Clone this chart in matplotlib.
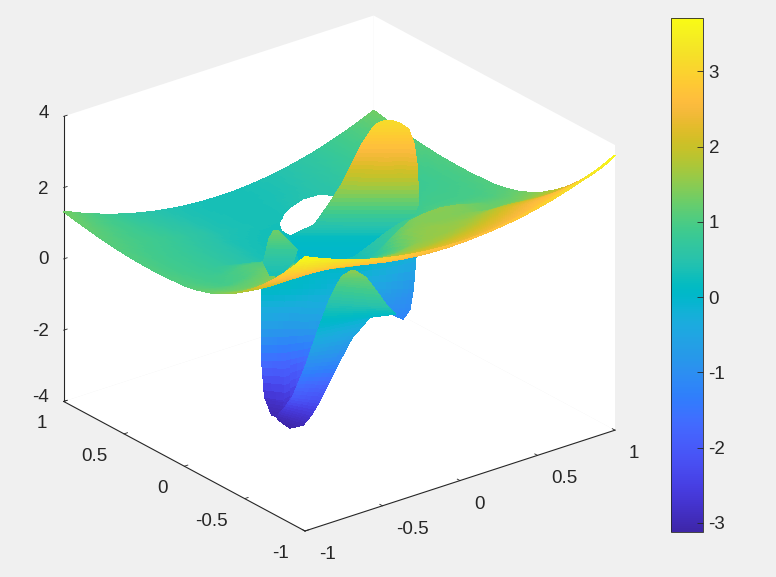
import numpy as np
import matplotlib
matplotlib.use("Agg")
import matplotlib.pyplot as plt
from matplotlib.colors import LinearSegmentedColormap, Normalize
from matplotlib.cm import ScalarMappable
from mpl_toolkits.mplot3d import proj3d
from mpl_toolkits.mplot3d.art3d import Poly3DCollection

plt.rcParams["font.family"] = ["Liberation Sans", "DejaVu Sans"]

nan = float("nan")
ink = "#262626"

x_grid = [-1, -.9, -.8, -.7, -.6, -.5, -.4, -.3, -.2, -.1, 0, .1, .2, .3, .4, .5, .6, .7, .8, .9, 1]
y_grid = [1, .9, .8, .7, .6, .5, .4, .3, .2, .1, 0, -.1, -.2, -.3, -.4, -.5, -.6, -.7, -.8, -.9, -1]

# main sheet, one row per y_grid value
bowl_z = [
    [1.33, 1.14, .97, .82, .69, .58, .49, .42, .37, .34, .33, .34, .37, .42, .49, .58, .69, .82, .97, 1.14, 1.33],
    [1.26, 1.09, .95, .82, .70, .59, .50, .41, .36, .33, .32, .33, .36, .41, .50, .59, .70, .82, .95, 1.09, 1.26],
    [1.20, 1.06, .94, .83, .72, .61, .52, .42, .37, .34, .33, .34, .37, .42, .52, .61, .72, .83, .94, 1.06, 1.20],
    [1.14, 1.02, .92, .83, .74, .63, .54, .42, .37, .34, .33, .34, .37, nan, nan, .63, .74, .83, .92, 1.02, 1.14],
    [1.10, 1.00, .92, .85, .76, .65, .56, .43, .38, .35, .34, .35, nan, nan, nan, .65, .76, .85, .92, 1.00, 1.10],
    [1.06, .96, .88, .81, .72, .61, .52, .39, .34, .31, .30, nan, nan, nan, .52, .61, .72, .81, .88, .96, 1.06],
    [1.04, .94, .86, .79, .70, .59, .50, .37, .32, .29, .28, .29, .32, .37, .50, .65, .74, .79, .86, .94, 1.04],
    [1.03, .93, .85, .78, .69, .58, .49, .36, .31, .28, .27, .28, .31, .45, .60, .70, .78, .82, .85, .93, 1.03],
    [1.03, .93, .85, .78, .69, .58, .49, .36, .31, .28, .27, .28, .31, .42, .55, .65, .78, .86, .88, .93, 1.03],
    [1.05, .95, .87, .80, .85, .80, .70, .55, .36, .30, .29, .30, .40, .50, .62, .75, .88, .92, .92, .95, 1.05],
    [1.07, .97, .89, .95, 1.05, 1.00, .90, .70, .50, .34, .31, .32, .50, .70, .85, .88, .98, .95, .95, .97, 1.07],
    [1.14, 1.03, .95, 1.00, 1.15, 1.10, 1.00, .85, .65, .50, .40, .41, .60, .85, 1.05, 1.15, 1.15, 1.10, 1.05, 1.03, 1.14],
    [1.24, 1.16, 1.14, 1.20, 1.30, 1.25, 1.15, 1.00, .85, .75, .72, .70, 1.15, 1.40, 1.47, 1.49, 1.42, 1.30, 1.18, 1.16, 1.24],
    [1.39, 1.30, 1.28, 1.35, 1.45, 1.40, 1.30, 1.20, 1.05, .95, .95, 1.00, 1.43, 1.48, 1.45, 1.44, 1.40, 1.28, 1.28, 1.30, 1.39],
    [1.58, 1.51, 1.52, 1.58, 1.65, 1.60, 1.55, 1.45, 1.35, 1.25, 1.18, 1.25, 1.52, 1.57, 1.54, 1.53, 1.54, 1.55, 1.52, 1.51, 1.58],
    [1.82, 1.76, 1.79, 1.83, 1.83, 1.76, 1.70, 1.62, 1.55, 1.50, 1.47, 1.55, 1.58, 1.60, 1.65, 1.72, 1.83, 1.83, 1.79, 1.76, 1.82],
    [2.10, 2.03, 2.04, 2.07, 2.06, 1.95, 1.86, 1.79, 1.74, 1.71, 1.70, 1.71, 1.74, 1.79, 1.86, 1.95, 2.06, 2.07, 2.04, 2.03, 2.10],
    [2.43, 2.34, 2.32, 2.32, 2.29, 2.18, 2.09, 2.02, 1.97, 1.94, 1.93, 1.94, 1.97, 2.02, 2.09, 2.18, 2.29, 2.32, 2.32, 2.34, 2.43],
    [2.80, 2.68, 2.62, 2.57, 2.51, 2.40, 2.31, 2.24, 2.19, 2.16, 2.15, 2.16, 2.19, 2.24, 2.31, 2.40, 2.51, 2.57, 2.62, 2.68, 2.80],
    [3.22, 3.06, 2.94, 2.83, 2.73, 2.62, 2.53, 2.46, 2.41, 2.38, 2.37, 2.38, 2.41, 2.46, 2.53, 2.62, 2.73, 2.83, 2.94, 3.06, 3.22],
    [3.69, 3.50, 3.33, 3.18, 3.05, 2.94, 2.85, 2.78, 2.73, 2.70, 2.69, 2.70, 2.73, 2.78, 2.85, 2.94, 3.05, 3.18, 3.33, 3.50, 3.71],
]

# band round the hole in the main sheet: outer edge, inner edge
rim_x = [
    [.5, .4, .3, .2, .2, .1, .1, 0, 0, 0, .2, .4, .4, .5, .5, .5, .5],
    [.421, .378, .286, .187, .143, .10, .068, .036, .001, .002, .098, .248, .308, .368, .40, .42, .421],
]
rim_y = [
    [.8, .8, .8, .8, .7, .7, .6, .6, .5, .4, .4, .4, .5, .5, .6, .7, .8],
    [.578, .648, .671, .651, .633, .608, .578, .549, .479, .413, .403, .433, .453, .483, .52, .55, .578],
]
rim_z = [
    [.61, .52, .42, .37, .37, .34, .35, .34, .30, .28, .32, .50, .52, .61, .65, .63, .61],
    [.54, .52, .47, .40, .37, .34, .33, .32, .30, .28, .28, .35, .39, .44, .50, .52, .54],
]

# upper lobe
dome_x = [
    [.485, .491, .497, .503, .510], [.442, .466, .486, .509, .531], [.405, .442, .480, .517, .554],
    [.333, .385, .437, .490, .542], [.276, .341, .406, .472, .537], [.220, .296, .372, .449, .525],
    [.177, .265, .355, .444, .534], [.132, .228, .322, .418, .513], [.022, .134, .246, .358, .471],
    [.004, .112, .218, .322, .421], [-.057, .035, .123, .203, .283],
]
dome_y = [
    [.246, .241, .236, .231, .227], [.249, .230, .215, .197, .180], [.252, .223, .194, .165, .136],
    [.241, .201, .160, .119, .078], [.252, .201, .150, .099, .048], [.262, .202, .143, .083, .024],
    [.315, .246, .175, .106, .036], [.373, .298, .224, .148, .075], [.438, .351, .263, .175, .087],
    [.365, .280, .197, .115, .038], [.254, .182, .113, .050, -.013],
]
dome_z = [[3.15] * 5, [3.12] * 5, [3.0] * 5, [2.7] * 5, [2.2] * 5, [1.7] * 5, [1.1] * 5, [.5] * 5, [.2] * 5, [.05] * 5, [0.0] * 5]

# small lobe on the left of the hole
lobe_x = [
    [-.291, -.283, -.275], [-.312, -.276, -.240], [-.328, -.268, -.207], [-.364, -.308, -.247], [-.384, -.367, -.309],
]
lobe_y = [
    [.169, .162, .156], [.183, .155, .127], [.180, .133, .085], [.159, .115, .068], [.083, .054, .071],
]
lobe_z = [[1.3] * 3, [1.05] * 3, [.8] * 3, [.55] * 3, [.35] * 3]

# hanging part, rear sheet
rear_x = [
    [-.320, -.180, -.034, .086, .321, .551],
    [-.462, -.335, -.175, -.001, .219, .411],
    [-.526, -.395, -.301, -.155, .149, .311],
    [-.532, -.414, -.274, -.108, .149, .248],
    [-.477, -.447, -.400, -.108, .149, .225],
    [-.531, -.496, -.487, -.108, .149, .225],
]
rear_y = [
    [.231, .178, .118, .024, .035, .066],
    [.049, -.021, -.063, -.089, -.096, -.082],
    [-.034, -.080, -.184, -.245, -.143, -.185],
    [-.041, -.080, -.174, -.184, -.143, -.209],
    [.005, -.122, -.311, -.184, -.143, -.180],
    [-.123, -.169, -.299, -.184, -.143, -.180],
]
rear_z = [
    [.3, .2, .1, .1, 0, -.1],
    [.1, .05, -.1, -.3, -.6, -.9],
    [-.5, -.6, -.6, -.7, -.95, -1.1],
    [-1.6, -1.7, -1.5, -1.1, -.95, -1.25],
    [-2.8, -2.7, -2.0, -1.1, -.95, -1.1],
    [-3.0, -3.05, -2.6, -1.1, -.95, -1.1],
]

# hanging part, front sheet
front_x = [
    [-.335, -.319], [-.336, -.248], [-.355, -.225], [-.389, -.187], [-.426, -.107], [-.463, -.177], [-.508, -.273],
    [-.534, -.352], [-.556, -.383], [-.578, -.439], [-.533, -.454], [-.526, -.481], [-.527, -.523],
]
front_y = [
    [-.527, -.540], [-.453, -.538], [-.428, -.592], [-.413, -.634], [-.420, -.599], [-.427, -.481], [-.435, -.454],
    [-.418, -.458], [-.388, -.413], [-.358, -.404], [-.233, -.349], [-.158, -.316], [-.175, -.263],
]
front_z = [
    [1.5, 1.5], [1.2, 1.2], [.9, .9], [.5, .5], [.2, .1], [-.1, -.1], [-.5, -.6],
    [-1.0, -1.1], [-1.5, -1.7], [-2.0, -2.2], [-2.6, -2.7], [-3.0, -3.0], [-3.05, -3.12],
]

colorbar_ticks = [-3, -2, -1, 0, 1, 2, 3]
colorbar_labels = ["-3", "-2", "-1", "0", "1", "2", "3"]
xy_ticks = [-1, -.5, 0, .5, 1]
xy_labels = ["-1", "-0.5", "0", "0.5", "1"]
z_ticks = [-4, -2, 0, 2, 4]
z_labels = ["-4", "-2", "0", "2", "4"]

parula_colors = [
    (.2422, .1504, .6603), (.2504, .1650, .7076), (.2578, .1818, .7511), (.2647, .1978, .7952),
    (.2706, .2147, .8364), (.2751, .2342, .8710), (.2783, .2559, .8991), (.2803, .2782, .9221),
    (.2813, .3006, .9414), (.2810, .3228, .9579), (.2795, .3447, .9717), (.2760, .3667, .9829),
    (.2699, .3892, .9906), (.2602, .4123, .9952), (.2440, .4358, .9988), (.2206, .4603, .9973),
    (.1963, .4847, .9892), (.1834, .5074, .9798), (.1786, .5289, .9682), (.1764, .5499, .9520),
    (.1687, .5703, .9359), (.1540, .5902, .9218), (.1460, .6091, .9079), (.1380, .6276, .8973),
    (.1248, .6459, .8883), (.1113, .6635, .8763), (.0952, .6798, .8598), (.0689, .6948, .8394),
    (.0297, .7082, .8163), (.0036, .7203, .7917), (.0067, .7312, .7660), (.0433, .7411, .7394),
    (.0964, .7500, .7120), (.1408, .7584, .6842), (.1717, .7670, .6554), (.1938, .7758, .6251),
    (.2161, .7843, .5923), (.2470, .7918, .5567), (.2906, .7973, .5188), (.3406, .8008, .4789),
    (.3909, .8029, .4354), (.4456, .8024, .3909), (.5044, .7993, .3480), (.5616, .7942, .3045),
    (.6174, .7876, .2612), (.6720, .7793, .2227), (.7242, .7698, .1910), (.7738, .7598, .1646),
    (.8203, .7498, .1535), (.8634, .7406, .1596), (.9035, .7330, .1774), (.9393, .7288, .2100),
    (.9728, .7298, .2394), (.9956, .7434, .2371), (.9970, .7659, .2199), (.9952, .7893, .2028),
    (.9892, .8136, .1885), (.9786, .8386, .1766), (.9676, .8639, .1643), (.9610, .8890, .1537),
    (.9597, .9135, .1423), (.9628, .9373, .1265), (.9691, .9606, .1064), (.9769, .9839, .0805),
]
parula = LinearSegmentedColormap.from_list("parula", parula_colors, N=256)
norm = Normalize(-3.12, 3.71)

W, H = 776, 577
fig = plt.figure(figsize=(W / 100, H / 100), dpi=100, facecolor="#f0f0f0")
side = 760
ax = fig.add_axes([(340 - side / 2) / W, 1 - (274 + side / 2) / H, side / W, side / H], projection="3d",
                  proj_type="ortho", computed_zorder=False)
ax.patch.set_visible(False)
ax.view_init(elev=24.7, azim=-127.9)
aspect = (392.6, 392.6, 313.6)
ax.set_box_aspect(aspect, zoom=1)


def add_sheet(xs, ys, zs, order, shade=5):
    # each cell is painted in small steps so its colour runs smoothly, like shading interp
    grid = np.stack([np.array(xs, float), np.array(ys, float), np.array(zs, float)], axis=-1)
    steps = np.linspace(0, 1, shade + 1)
    polys, colors = [], []
    for i in range(grid.shape[0] - 1):
        for j in range(grid.shape[1] - 1):
            p00, p01, p10, p11 = grid[i, j], grid[i, j + 1], grid[i + 1, j], grid[i + 1, j + 1]
            if np.isnan([p00, p01, p10, p11]).any():
                continue
            for a in range(shade):
                for b in range(shade):
                    quad = []
                    for s, t in ((steps[a], steps[b]), (steps[a], steps[b + 1]),
                                 (steps[a + 1], steps[b + 1]), (steps[a + 1], steps[b])):
                        quad.append((1 - s) * ((1 - t) * p00 + t * p01) + s * ((1 - t) * p10 + t * p11))
                    polys.append(quad)
                    colors.append(parula(norm(np.mean([q[2] for q in quad]))))
    sheet = Poly3DCollection(polys, facecolors=colors, edgecolors=colors, linewidths=.5,
                             antialiaseds=False, zorder=order)
    ax.add_collection3d(sheet)


X_bowl, Y_bowl = np.meshgrid(x_grid, y_grid)
Z_bowl = np.array(bowl_z)
split = y_grid.index(0)
add_sheet(rear_x, rear_y, rear_z, 1)
add_sheet(front_x, front_y, front_z, 2)
add_sheet(X_bowl[:split + 1], Y_bowl[:split + 1], Z_bowl[:split + 1], 3)
add_sheet(rim_x, rim_y, rim_z, 3.5)
add_sheet(dome_x, dome_y, dome_z, 4)
add_sheet(X_bowl[split:], Y_bowl[split:], Z_bowl[split:], 6)
add_sheet(lobe_x, lobe_y, lobe_z, 7)

ax.set_xlim(-1, 1, view_margin=0)
ax.set_ylim(-1, 1, view_margin=0)
ax.set_zlim(-4, 4, view_margin=0)
ax.grid(False)
ax.set_xticks(xy_ticks, [""] * 5)
ax.set_yticks(xy_ticks, [""] * 5)
ax.set_zticks(z_ticks, [""] * 5)
for axis in (ax.xaxis, ax.yaxis, ax.zaxis):
    axis.set_pane_color((1, 1, 1, 1))
    axis.pane.set_edgecolor("none")
    axis.line.set_color(ink)
    axis.line.set_linewidth(.8)
    axis._axinfo["tick"]["inward_factor"] = 0
    axis._axinfo["tick"]["outward_factor"] = .14
    axis._axinfo["tick"]["linewidth"] = {True: .6, False: .4}
ax.tick_params(axis="both", colors=ink, width=.6)


def to_pixels(x, y, z):
    u, v, _ = proj3d.proj_transform(x, y, z, ax.get_proj())
    return ax.transData.transform((u, v))


# line the box up with the target corners
fig.canvas.draw()
a = to_pixels(-1, -1, -4)
b = to_pixels(1, -1, -4)
ax.set_box_aspect(aspect, zoom=310 / (b[0] - a[0]))
fig.canvas.draw()
a = to_pixels(-1, -1, -4)
pos = ax.get_position()
ax.set_position([pos.x0 + (305 - a[0]) / W, pos.y0 + ((H - 531) - a[1]) / H, pos.width, pos.height])
fig.canvas.draw()


def tick_text(point, label, dx, dy, ha):
    px, py = to_pixels(*point)
    fig.text((px + dx) / W, (py + dy) / H, label, ha=ha, va="center_baseline", fontsize=13.5, color=ink)


for t, lab in zip(xy_ticks, xy_labels):
    tick_text((t, -1, -4), lab, 14, -21.5, "left")
    tick_text((-1, t, -4), lab, -16.5, -20.5, "right")
for t, lab, up in zip(z_ticks, z_labels, [6, 1, 1, 0, 5]):
    tick_text((-1, 1, t), lab, -15, up, "right")

cax = fig.add_axes([671 / W, 1 - 532 / H, 32 / W, 514 / H])
cbar = fig.colorbar(ScalarMappable(norm=norm, cmap=parula), cax=cax)
cbar.set_ticks(colorbar_ticks, labels=colorbar_labels)
cbar.ax.tick_params(direction="in", length=4.5, width=.6, colors=ink, labelsize=13.5, pad=4)
cbar.outline.set_edgecolor(ink)
cbar.outline.set_linewidth(.6)

fig.savefig("out.png", dpi=100, facecolor=fig.get_facecolor())
